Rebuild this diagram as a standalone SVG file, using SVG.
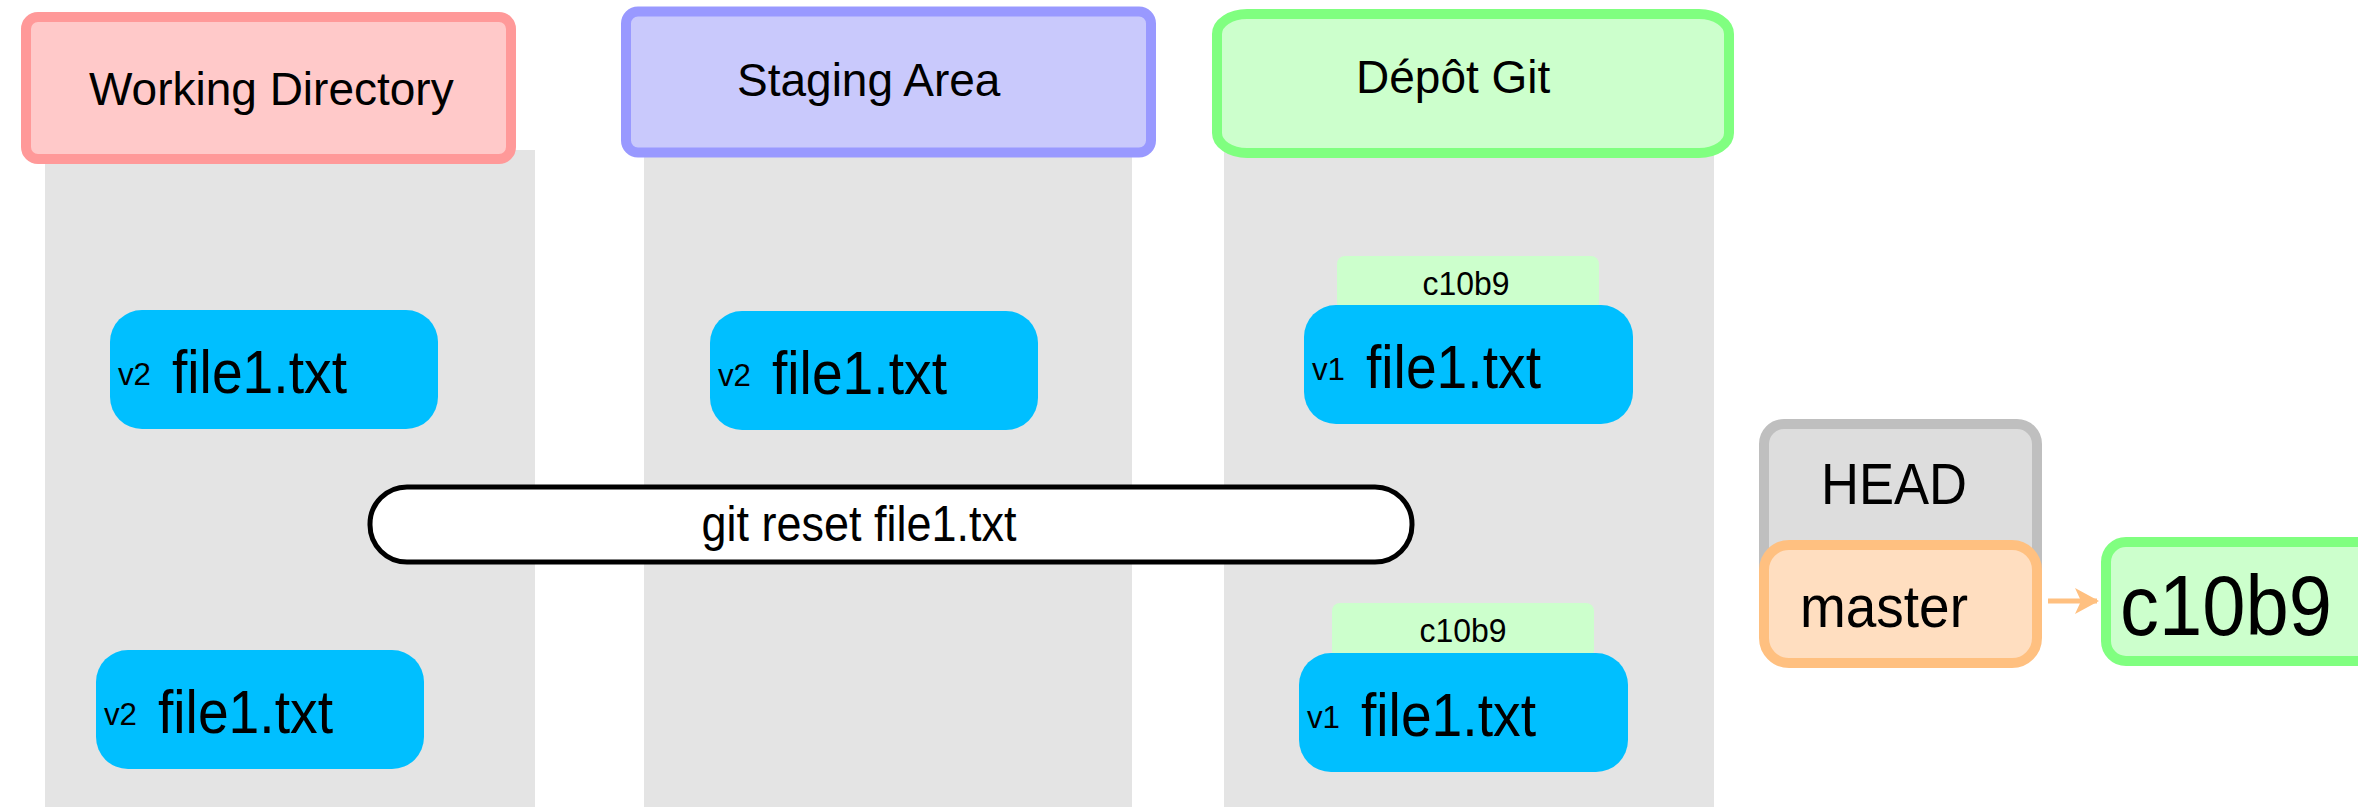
<svg xmlns="http://www.w3.org/2000/svg" width="2358" height="807" viewBox="0 0 2358 807">
<style>
text{font-family:"Liberation Sans",Arial,sans-serif;fill:#000}
.col{fill:#e4e4e4}
.file{fill:#00bfff}
.lbl{fill:#ccffcc}
.h{font-size:46px}
.fn{font-size:62px}
.v{font-size:32px}
.c{font-size:33px;text-anchor:middle}
</style>
<defs>
<marker id="ah" viewBox="0 0 24 26" refX="22" refY="13" markerWidth="24" markerHeight="26" markerUnits="userSpaceOnUse" orient="auto">
<path d="M0,0 L24,13 L0,26 L6,13 Z" fill="#ffc080"/>
</marker>
</defs>
<rect width="2358" height="807" fill="#fff"/>
<g id="columns">
<rect class="col" x="45" y="150" width="490" height="657"/>
<rect class="col" x="644" y="150" width="488" height="657"/>
<rect class="col" x="1224" y="150" width="490" height="657"/>
</g>
<g id="working-directory">
<rect x="26" y="17" width="485" height="142" rx="12" fill="#ffc9c9" stroke="#ff9999" stroke-width="10"/>
<text class="h" x="89" y="105">Working Directory</text>
</g>
<g id="staging-area">
<rect x="626" y="11.5" width="525" height="141" rx="12" fill="#c9c9fc" stroke="#9999ff" stroke-width="10"/>
<text class="h" x="737" y="96">Staging Area</text>
</g>
<g id="depot-git">
<rect x="1217" y="14" width="512" height="139" rx="30" ry="20" fill="#ccffcc" stroke="#80ff80" stroke-width="10"/>
<text class="h" x="1356" y="93">Dépôt Git</text>
</g>
<g id="wd-file-top">
<rect class="file" x="110" y="310" width="328" height="119" rx="32"/>
<text class="v" x="118" y="385" textLength="33" lengthAdjust="spacingAndGlyphs">v2</text>
<text class="fn" x="172" y="393" textLength="175" lengthAdjust="spacingAndGlyphs">file1.txt</text>
</g>
<g id="sa-file-top">
<rect class="file" x="710" y="311" width="328" height="119" rx="32"/>
<text class="v" x="718" y="386" textLength="33" lengthAdjust="spacingAndGlyphs">v2</text>
<text class="fn" x="772" y="394" textLength="175" lengthAdjust="spacingAndGlyphs">file1.txt</text>
</g>
<g id="git-file-top">
<rect class="lbl" x="1337" y="256" width="262" height="56" rx="8"/>
<text class="c" x="1466" y="295" textLength="87" lengthAdjust="spacingAndGlyphs">c10b9</text>
<rect class="file" x="1304" y="305" width="329" height="119" rx="32"/>
<text class="v" x="1312" y="380" textLength="33" lengthAdjust="spacingAndGlyphs">v1</text>
<text class="fn" x="1366" y="388" textLength="175" lengthAdjust="spacingAndGlyphs">file1.txt</text>
</g>
<g id="command">
<rect x="370" y="487" width="1042" height="75" rx="37" fill="#fff" stroke="#000" stroke-width="5"/>
<text x="859" y="541" font-size="50" text-anchor="middle" textLength="315" lengthAdjust="spacingAndGlyphs">git reset file1.txt</text>
</g>
<g id="wd-file-bottom">
<rect class="file" x="96" y="650" width="328" height="119" rx="32"/>
<text class="v" x="104" y="725" textLength="33" lengthAdjust="spacingAndGlyphs">v2</text>
<text class="fn" x="158" y="733" textLength="175" lengthAdjust="spacingAndGlyphs">file1.txt</text>
</g>
<g id="git-file-bottom">
<rect class="lbl" x="1332" y="603" width="262" height="56" rx="8"/>
<text class="c" x="1463" y="642" textLength="87" lengthAdjust="spacingAndGlyphs">c10b9</text>
<rect class="file" x="1299" y="653" width="329" height="119" rx="32"/>
<text class="v" x="1307" y="728" textLength="33" lengthAdjust="spacingAndGlyphs">v1</text>
<text class="fn" x="1361" y="736" textLength="175" lengthAdjust="spacingAndGlyphs">file1.txt</text>
</g>
<g id="head">
<rect x="1764" y="424" width="273" height="200" rx="20" fill="#dddddd" stroke="#bfbfbf" stroke-width="10"/>
<text x="1821" y="504" font-size="58" textLength="146" lengthAdjust="spacingAndGlyphs">HEAD</text>
</g>
<g id="master">
<rect x="1764" y="545" width="273" height="118" rx="25" fill="#ffdec0" stroke="#ffc080" stroke-width="10"/>
<text x="1800" y="627" font-size="60" textLength="168" lengthAdjust="spacingAndGlyphs">master</text>
</g>
<g id="commit-c10b9">
<rect x="2106" y="542" width="300" height="119" rx="20" fill="#ccffcc" stroke="#80ff80" stroke-width="10"/>
<text x="2120" y="635" font-size="86" textLength="212" lengthAdjust="spacingAndGlyphs">c10b9</text>
</g>
<g id="connectors">
<line x1="2048" y1="601" x2="2097" y2="601" stroke="#ffc080" stroke-width="5" marker-end="url(#ah)"/>
</g>
</svg>
